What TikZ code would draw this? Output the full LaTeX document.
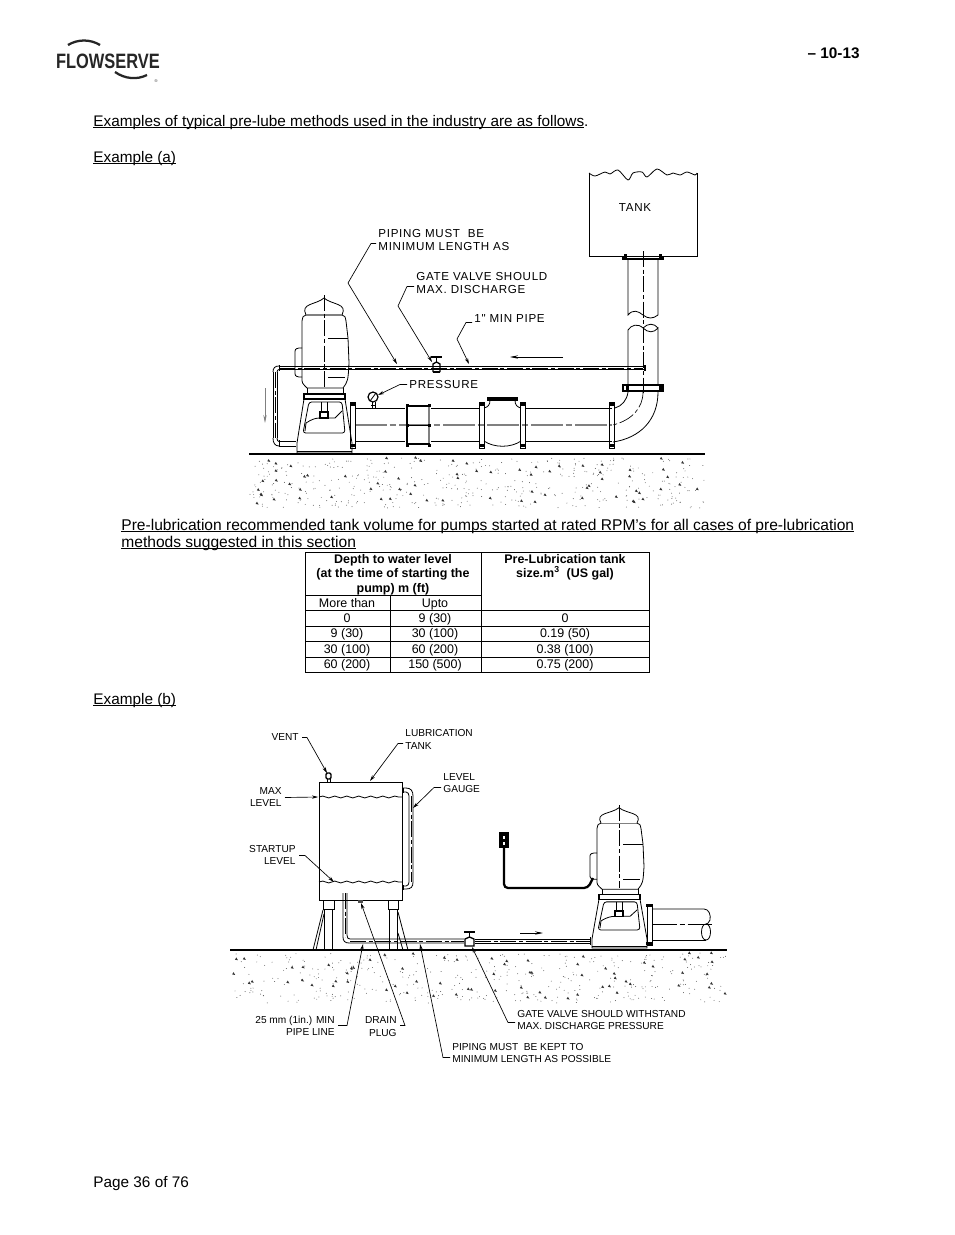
\documentclass[tikz,border=0pt]{standalone}
\usepackage{fontspec}
\setmainfont{Liberation Sans}
\newfontfamily\spacedfont[LetterSpace=6]{Liberation Sans}
\usetikzlibrary{arrows.meta,decorations.pathmorphing}

\newcommand{\ulined}[1]{\setbox0=\hbox{#1}\rlap{\vrule width\wd0 height -0.8pt depth 1.55pt}\box0 }

\tikzset{
  body/.style={anchor=base west,inner sep=0pt,font=\fontsize{11.5}{14}\selectfont},
  cell/.style={anchor=base,inner sep=0pt,font=\fontsize{9.35}{11}\selectfont},
  headcell/.style={inner sep=0pt,align=center,font=\fontsize{9.35}{10.9}\selectfont\bfseries},
  lbla/.style={anchor=west,inner sep=0pt,font=\fontsize{8.7}{10}\spacedfont},
  lblb/.style={anchor=west,inner sep=0pt,font=\fontsize{7.6}{9}\selectfont},
  lblbr/.style={anchor=east,inner sep=0pt,font=\fontsize{7.6}{9}\selectfont},
  leader/.style={line width=0.5pt,-{Stealth[length=4.5pt,width=2.5pt]}},
  flow/.style={line width=0.5pt,-{Stealth[length=6pt,width=2.5pt]}},
  centerline/.style={line width=0.5pt,dash pattern=on 12pt off 2pt on 3pt off 2pt},
  wave/.style={decorate,decoration={snake,amplitude=0.7pt,segment length=9pt}},
  pics/motorpump/.style={code={
    % motor
    \draw (-18,-138) .. controls (-24,-150) and (-8,-148) .. (0,-155) .. controls (8,-148) and (24,-150) .. (18,-138);
    \draw[gray,line width=0.9pt] (-18,-138) -- (18,-138);
    \draw (-18,-138) .. controls (-21,-137) .. (-22,-132) -- (-22,-75) .. controls (-22,-70) .. (-17,-65) -- (19,-65)
      .. controls (24,-72) .. (25,-90) -- (24,-115) -- (22,-132) .. controls (21,-137) .. (18,-138);
    \draw (4,-115) -- (24,-115);
    \draw (4,-76) -- (21,-76);
    \draw (-22,-105) -- (-25,-105) .. controls (-29,-104) .. (-29,-99) -- (-29,-82) .. controls (-29,-77) .. (-25,-76) -- (-22,-76);
    \draw[centerline] (0,-158) -- (0,-66);
    % base
    \draw (-17,-65) -- (-17,-59);
    \draw (19,-65) -- (19,-59);
    \draw[line width=0.9pt] (-20,-59) rectangle (21,-54);
    \draw (-20,-54) -- (-27,-10) -- (-27,0) -- (28,0) -- (28,-10) -- (21,-54);
    \draw (-27,-2) -- (28,-2);
    \draw[rounded corners=2pt] (-15,-51) -- (18,-51) -- (21,-20) -- (-21,-20) -- cycle;
    \draw (-3,-51) -- (-3,-41);
    \draw (3,-51) -- (3,-41);
    \draw[line width=1pt] (-4,-41) rectangle (4,-35);
    \draw (-19,-22) -- (-18,-30) .. controls (-12,-34) and (-8,-35) .. (-4,-35);
    \draw (4,-35) -- (11,-35) -- (18,-42);
  }}
}

\newcommand{\speckle}[4]{%
  \foreach \n in {1,...,#4} {
    \pgfmathsetmacro{\sx}{#1+rnd*(#2-#1)}
    \pgfmathsetmacro{\sy}{#3+rnd*50}
    \fill[black!65] (\sx,\sy) circle (0.35pt);
  }
  \foreach \n in {1,...,70} {
    \pgfmathsetmacro{\sx}{#1+rnd*(#2-#1)}
    \pgfmathsetmacro{\sy}{#3+rnd*46}
    \fill[black!80] (\sx,\sy) -- ++(3,0.6) -- ++(-1.6,-2.8) -- cycle;
  }
}

\begin{document}
\begin{tikzpicture}[x=0.75pt,y=-0.75pt,line width=0.6pt]
\useasboundingbox (0,0) rectangle (954,1235);
\fill[white] (0,0) rectangle (954,1235);

% logo
\node[inner sep=0pt,text=black!85,xscale=0.79,font=\fontsize{15.6}{16}\selectfont\bfseries] (logo) at (108,61) {FLOWSERVE};
\draw[black!85,line width=1.7pt] (68,45) .. controls (78,39) and (90,39) .. (100,45);
\draw[black!85,line width=1.7pt] (115,72) .. controls (125,79) and (137,80) .. (147,75);
\node[inner sep=0pt,text=black!80,font=\fontsize{3}{3}\selectfont] (regmark) at (156,81) {\textregistered};

% page text
\node[anchor=base east,inner sep=0pt,font=\fontsize{11.5}{14}\selectfont\bfseries] (pagehead) at (860,58) {– 10-13};
\node[body] (intro) at (93,126) {\ulined{Examples of typical pre-lube methods used in the industry are as follows}.};
\node[body] (exa) at (93,162) {\ulined{Example (a)}};
\node[body,font=\fontsize{11.68}{14}\selectfont] (para1) at (121,530) {\ulined{Pre-lubrication recommended tank volume for pumps started at rated RPM’s for all cases of pre-lubrication}};
\node[body,font=\fontsize{11.68}{14}\selectfont] (para2) at (121,547) {\ulined{methods suggested in this section}};
\node[body] (exb) at (93,704) {\ulined{Example (b)}};
\node[body] (pagefoot) at (93,1187) {Page 36 of 76};

% example (a): tank
\draw plot[smooth,tension=0.5] coordinates {(589,173) (595,176) (605,172) (610,174) (618,170) (628,180) (633,173) (642,172) (647,177) (657,169) (667,175) (673,173) (680,175) (687,172) (695,175) (697,173)};
\draw (589,173) -- (589,256) -- (697,256) -- (697,173);
\node[inner sep=0pt,font=\fontsize{8.7}{10}\spacedfont] (tanka) at (635,208) {TANK};

% example (a): riser from the tank
\draw[line width=0.9pt] (623,256.5) rectangle (663,259);
\fill (624,254) rectangle (627,260);
\fill (659,254) rectangle (662,260);
\draw (628,259) -- (628,315) .. controls (633,309) and (638,311) .. (643,315) .. controls (648,319) and (653,319) .. (658,315) -- (658,259);
\draw (628,385) -- (628,330) .. controls (631,325) and (638,323) .. (643,328) .. controls (648,333) and (654,333) .. (658,328) -- (658,385);
\draw (643,328) .. controls (648,323) and (654,323) .. (658,328);
\draw[line width=0.9pt] (623,385) rectangle (663,391);
\fill (626,384) rectangle (629,392);
\fill (659,384) rectangle (662,392);
\draw[centerline] (643,251) -- (643,393);
\draw (628,392) .. controls (627,400) and (622,406) .. (615,408);
\draw (658,392) .. controls (658,420) and (640,438) .. (613,442);
\draw[centerline] (643,392) .. controls (643,408) and (632,420) .. (613,425);

% example (a): suction line
\draw (355,408) -- (405,408);
\draw (355,441.5) -- (405,441.5);
\draw (431,408) -- (480,408);
\draw (431,441.5) -- (480,441.5);
\draw (525,408) -- (612,408);
\draw (525,441.5) -- (612,441.5);
\draw[gray,line width=1pt,dash pattern=on 24pt off 2pt on 5pt off 2pt] (355,425) -- (612,425);
\foreach \fx in {353,482,523,612} {
  \draw (\fx-2.5,402) rectangle (\fx+2.5,448);
  \fill (\fx-3,403) rectangle (\fx+3,406);
  \fill (\fx-3,444) rectangle (\fx+3,447);
}
% coupling
\draw[line width=1.1pt] (407,404) -- (407,446);
\draw[gray,line width=1.3pt] (429,404) -- (429,446);
\draw[line width=0.9pt] (406,406) -- (430,406);
\draw[line width=0.7pt] (406,425) -- (430,425);
\draw[line width=1.3pt] (406,444) -- (430,444);
\foreach \cy in {405,425,445} {
  \fill (405.5,\cy-1.5) rectangle (408.5,\cy+1.5);
  \fill (427.5,\cy-1.5) rectangle (430.5,\cy+1.5);
}
% check valve
\draw[line width=0.9pt] (488,398) rectangle (517,400);
\draw (490,400) .. controls (490,405) and (488,407) .. (484,408);
\draw (515,400) .. controls (515,405) and (517,407) .. (521,408);
\draw (484,441) .. controls (494,448) and (511,448) .. (521,441);

% example (a): gauge
\draw[line width=0.9pt] (373,397) circle (5);
\draw (370,401) -- (376,393);
\draw (372,402) -- (372,408);
\draw (375,402) -- (375,408);
\draw (371,405) -- (376,405);

% example (a): prelube line
\draw (279,366) -- (645,366);
\draw (279,369.5) -- (645,369.5);
\draw[centerline] (279,368) -- (643,368);
\fill (644,365) rectangle (646,371);
\draw (273,372) .. controls (273,368) and (275,366) .. (279,366);
\draw (277,372) .. controls (277,370.5) and (278,369.5) .. (279,369.5);
\draw (273,372) -- (273,438);
\draw (277,372) -- (277,438);
\draw[centerline] (275,372) -- (275,438);
\draw (273,438) .. controls (273,443) and (275,446) .. (279,446);
\draw (277,438) .. controls (277,440.5) and (278,441.5) .. (279,441.5);
\draw (279,441.5) -- (296,441.5);
\draw (279,446) -- (296,446);
\draw (279,365) -- (279,371);
\draw (279,440) -- (279,447);
\draw[gray,flow] (265,388) -- (265,423);
\draw[flow] (563,357) -- (510,357);

% example (a): gate valve
\draw[line width=1pt] (431,357) -- (442,357);
\draw (436.5,357) -- (436.5,362);
\draw[line width=1pt] (433,372) -- (433,364) -- (436.5,362) -- (440,364) -- (440,372);
\draw[line width=1pt] (433,372) -- (440,372);

% example (a): pump and ground
\pic (pumpa) at (324,453) {motorpump};
\draw[line width=0.8pt] (249,454) -- (705,454);
\pgfmathsetseed{41}
\speckle{250}{704}{458}{420}

% example (a): labels
\node[lbla] (pipea) at (378,233.5) {PIPING MUST\ \ BE};
\node[lbla] (pipeb) at (378,246.5) {MINIMUM LENGTH AS};
\node[lbla] (gatea) at (416,276.5) {GATE VALVE SHOULD};
\node[lbla] (gateb) at (416,289.5) {MAX. DISCHARGE};
\node[lbla] (minpipe) at (474,318.5) {1" MIN PIPE};
\node[lbla] (press) at (409,384.5) {PRESSURE};
\coordinate (pipeend) at (397,364);
\coordinate (gateend) at (432,362);
\coordinate (minend) at (469,364);
\coordinate (pressend) at (378,395);
\draw[leader] (pipeb.west) ++(-2,-3) -- ++(-5,0) -- (348,283) -- (pipeend);
\draw[leader] (gateb.west) ++(-2,-3) -- ++(-7,0) -- (398,306) -- (gateend);
\draw[leader] (minpipe.west) ++(-2,4) -- ++(-6,0) -- (457,339) -- (minend);
\draw[leader] (press.west) ++(-2,0) -- ++(-7,0) -- (pressend);

% table
\draw (305.5,552.5) rectangle (649.5,672);
\draw (481,552.5) -- (481,672);
\draw (390,595) -- (390,672);
\draw (305.5,595) -- (481,595);
\foreach \ty in {610,626,641.5,657} {
  \draw (305.5,\ty) -- (649.5,\ty);
}
\node[headcell] (headdepth) at (393,574.5) {Depth to water level\\(at the time of starting the\\pump) m (ft)};
\node[headcell] (headsize) at (565,567.5) {Pre-Lubrication tank\\size.m\textsuperscript{3}\ \ (US gal)};
\node[cell] (cmore) at (347,607) {More than};
\node[cell] (cupto) at (435,607) {Upto};
\node[cell] (a1) at (347,622) {0};
\node[cell] (b1) at (435,622) {9 (30)};
\node[cell] (c1) at (565,622) {0};
\node[cell] (a2) at (347,637.5) {9 (30)};
\node[cell] (b2) at (435,637.5) {30 (100)};
\node[cell] (c2) at (565,637.5) {0.19 (50)};
\node[cell] (a3) at (347,653) {30 (100)};
\node[cell] (b3) at (435,653) {60 (200)};
\node[cell] (c3) at (565,653) {0.38 (100)};
\node[cell] (a4) at (347,668.5) {60 (200)};
\node[cell] (b4) at (435,668.5) {150 (500)};
\node[cell] (c4) at (565,668.5) {0.75 (200)};

% example (b): tank
\draw (319,782) rectangle (402,900);
\draw[wave] (319,797) -- (402,797);
\draw[wave] (319,882) -- (402,882);
\draw[line width=1pt,rounded corners=1pt] (326,773) rectangle (331,779);
\draw (327,779) -- (327,782);
\draw (330,779) -- (330,782);
% legs and braces
\draw (323,900) -- (323,909) -- (334,909) -- (334,900);
\draw (388,900) -- (388,909) -- (398,909) -- (398,900);
\draw (324,909) -- (324,950);
\draw (332,909) -- (332,950);
\draw (389,909) -- (389,950);
\draw (397,909) -- (397,950);
\draw (323,910) -- (313,950);
\draw (324,914) -- (316,950);
\draw (398,912) -- (408,950);
\draw (398,933) -- (403,950);
% level gauge
\draw (402,788) -- (406,788) .. controls (411,788) and (413,791) .. (413,796) -- (413,882) .. controls (413,887) and (411,889) .. (406,889) -- (402,889);
\draw (402,792) -- (406,792) .. controls (408,792) and (409,794) .. (409,796) -- (409,882) .. controls (409,884) and (408,886) .. (406,886) -- (402,886);
\draw[centerline] (411,796) -- (411,882);
\fill (402,788) rectangle (404,793);
\fill (402,885) rectangle (404,890);
% drain
\fill[black!70] (358,900) rectangle (363,902.5);
% line out of the tank
\draw (343,893) -- (343,937) .. controls (343,941) and (345,943) .. (349,943) -- (464,943);
\draw (347,893) -- (347,935) .. controls (347,938) and (348,939) .. (350,939) -- (464,939);
\draw[centerline] (345,893) -- (345,937);
\draw[centerline] (350,941) -- (464,941);
\draw (475,939) -- (590,939);
\draw (475,943) -- (590,943);
\draw[centerline] (475,941) -- (590,941);
\draw (590,937) -- (590,945);
\draw[flow] (520,933) -- (543,933);
% gate valve
\draw[line width=1pt] (464,932) -- (475,932);
\draw (469.5,932) -- (469.5,937);
\draw[line width=1pt] (465,946) -- (465,939) -- (469.5,937) -- (474,939) -- (474,946) -- cycle;

% example (b): pump
\pic[yscale=0.905] (pumpb) at (619,948) {motorpump};
\draw (647,904) rectangle (652,945);
\fill (646,904) rectangle (653,907);
\fill (646,942) rectangle (653,945);
\draw (652,909) -- (704,909) .. controls (709,909) and (711,915) .. (710,920) .. controls (709,923) and (707,924) .. (706,924);
\draw (652,940) -- (706,940);
\draw (706,924) .. controls (700,924) and (700,940) .. (706,940) .. controls (712,940) and (712,924) .. (706,924);
\draw[line width=0.5pt,dash pattern=on 18pt off 2pt on 4pt off 2pt] (653,924) -- (712,924);
% outlet and cable
\draw[line width=1pt] (500,833) rectangle (508,847);
\draw[line width=0.8pt] (502,835) rectangle (506,839.5);
\draw[line width=0.8pt] (502,841) rectangle (506,845.5);
\draw[line width=1.7pt,rounded corners=3pt] (504,847) -- (504,888) -- (588,888) -- (593,878);

% example (b): ground
\draw[line width=0.8pt] (230,950) -- (727,950);
\pgfmathsetseed{17}
\speckle{232}{726}{953}{380}

% example (b): labels
\node[lblbr] (ventl) at (299,737.5) {VENT};
\node[lblb] (luba) at (405,733.5) {LUBRICATION};
\node[lblb] (lubb) at (405,746.5) {TANK};
\node[lblb] (gauga) at (443,777.5) {LEVEL};
\node[lblb] (gaugb) at (443,789.5) {GAUGE};
\node[lblbr] (maxa) at (282,791.5) {MAX};
\node[lblbr] (maxb) at (282,803.5) {LEVEL};
\node[lblbr] (starta) at (296,849.5) {STARTUP};
\node[lblbr] (startb) at (296,861.5) {LEVEL};
\node[lblbr] (mina) at (335,1020.5) {25 mm (1in.) MIN};
\node[lblbr] (minb) at (335,1032.5) {PIPE LINE};
\node[lblbr] (draina) at (397,1020.5) {DRAIN};
\node[lblbr] (drainb) at (397,1032.5) {PLUG};
\node[lblb] (pipec) at (452,1046.5) {PIPING MUST\ \ BE KEPT TO};
\node[lblb] (piped) at (452,1058.5) {MINIMUM LENGTH AS POSSIBLE};
\node[lblb] (gatec) at (517,1013.5) {GATE VALVE SHOULD WITHSTAND};
\node[lblb] (gated) at (517,1025.5) {MAX. DISCHARGE PRESSURE};
\coordinate (ventend) at (327,773);
\coordinate (lubend) at (370,781);
\coordinate (gaugend) at (413,808);
\coordinate (maxend) at (318,797);
\coordinate (startend) at (334,882);
\coordinate (minpend) at (363,944);
\coordinate (drainend) at (361,903);
\coordinate (pipeendb) at (420,944);
\coordinate (gateendb) at (472,947);
\draw[leader] (ventl.east) ++(3,0) -- ++(5,0) -- (ventend);
\draw[leader] (lubb.west) ++(-2,-3) -- ++(-5,0) -- (lubend);
\draw[leader] (gaugb.west) ++(-2,-2) -- ++(-7,0) -- (gaugend);
\draw[leader] (maxb.east) ++(3,-6) -- (maxend);
\draw[leader] (startb.east) ++(3,-6) -- ++(6,0) -- (startend);
\draw[leader] (minb.east) ++(3,-7) -- ++(9,0) -- (minpend);
\draw[leader] (drainb.east) ++(3,-7) -- ++(5,0) -- (drainend);
\draw[leader] (piped.west) ++(-2,-1) -- ++(-7,0) -- (pipeendb);
\draw[leader] (gated.west) ++(-2,-3) -- ++(-7,0) -- (gateendb);
\end{tikzpicture}
\end{document}
